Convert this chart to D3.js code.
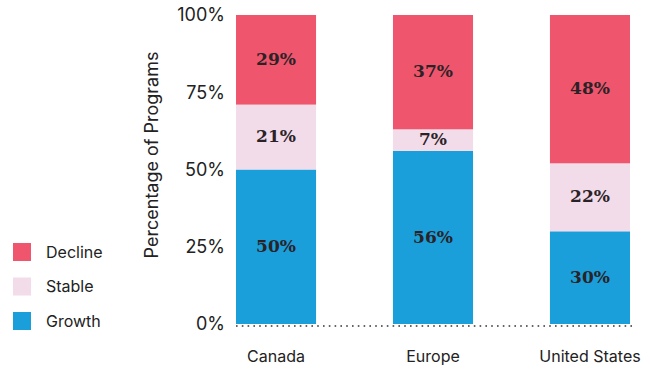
<!DOCTYPE html>
<html>
  <head>
    <meta charset="utf-8">
    <title></title>
    <script type="text/javascript" src="https://d3js.org/d3.v7.min.js"></script>
    <style>
      body { margin: 0; background: #fff; }
      text { font-family: "Inter", "Roboto", sans-serif; }
    </style>
  </head>
  <body>
    <script type="text/javascript">

      var regions = ["Canada", "Europe", "United States"];
      var growth = [50, 56, 30];
      var stable = [21, 7, 22];
      var decline = [29, 37, 48];
      var seriesNames = ["Decline", "Stable", "Growth"];
      var yTicks = [0, 25, 50, 75, 100];

      var colors = { Growth: "#1a9fdb", Stable: "#f2dcea", Decline: "#ef566d" };

      var w = 650, h = 374;

      var svg = d3.select("body").append("svg")
        .attr("width", w)
        .attr("height", h);

      var xscale = d3.scaleBand()
        .domain(regions)
        .range([236, 630])
        .paddingInner(0.49)
        .paddingOuter(0);

      var yscale = d3.scaleLinear()
        .domain([0, 100])
        .range([324, 15]);

      // build rows for stacking
      var rows = regions.map(function(r, i) {
        return { region: r, Growth: growth[i], Stable: stable[i], Decline: decline[i] };
      });
      var stack = d3.stack().keys(["Growth", "Stable", "Decline"]);
      var layers = stack(rows);

      var g = svg.selectAll("g.layer")
        .data(layers)
        .enter().append("g")
        .attr("class", "layer")
        .attr("fill", function(d) { return colors[d.key]; });

      g.selectAll("rect")
        .data(function(d) { return d; })
        .enter().append("rect")
        .attr("x", function(d) { return xscale(d.data.region); })
        .attr("width", xscale.bandwidth())
        .attr("y", function(d) { return yscale(d[1]); })
        .attr("height", function(d) { return yscale(d[0]) - yscale(d[1]); });

      g.selectAll("text")
        .data(function(d) { return d; })
        .enter().append("text")
        .attr("x", function(d) { return xscale(d.data.region) + xscale.bandwidth() / 2; })
        .attr("y", function(d) { return (yscale(d[0]) + yscale(d[1])) / 2; })
        .attr("dy", "0.3em")
        .attr("text-anchor", "middle")
        .style("font-family", "'DejaVu Serif', serif")
        .style("font-weight", "bold")
        .style("font-size", "17px")
        .attr("fill", "#2a2226")
        .text(function(d) { return (d[1] - d[0]) + "%"; });

      // dotted baseline
      svg.append("line")
        .attr("x1", 236)
        .attr("x2", 632)
        .attr("y1", yscale(0) + 2)
        .attr("y2", yscale(0) + 2)
        .attr("stroke", "#333")
        .attr("stroke-width", 1.6)
        .attr("stroke-dasharray", "1.6,4.2");

      // y axis
      var yAxis = d3.axisLeft(yscale)
        .tickValues(yTicks)
        .tickSize(0)
        .tickPadding(0)
        .tickFormat(function(d) { return d + "%"; });

      var ya = svg.append("g")
        .attr("transform", "translate(225,0)")
        .call(yAxis);
      ya.select(".domain").remove();
      ya.selectAll("text")
        .style("font-size", "18px")
        .style("font-family", "Inter, sans-serif")
        .attr("fill", "#222");

      // x axis labels
      var xAxis = d3.axisBottom(xscale).tickSize(0).tickPadding(0);
      var xa = svg.append("g")
        .attr("transform", "translate(0,351)")
        .call(xAxis);
      xa.select(".domain").remove();
      xa.selectAll("text")
        .style("font-size", "16px")
        .style("font-family", "Inter, sans-serif")
        .attr("fill", "#222");

      svg.append("text")
        .attr("transform", "translate(158,155)rotate(-90)")
        .attr("text-anchor", "middle")
        .style("font-size", "18px")
        .attr("fill", "#222")
        .text("Percentage of Programs");

      // legend
      var legend = svg.selectAll("g.legend")
        .data(seriesNames)
        .enter().append("g")
        .attr("class", "legend")
        .attr("transform", function(d, i) { return "translate(13," + (243 + i * 34.5) + ")"; });

      legend.append("rect")
        .attr("width", 18)
        .attr("height", 18)
        .attr("fill", function(d) { return colors[d]; });

      legend.append("text")
        .attr("x", 33)
        .attr("y", 9)
        .attr("dy", "0.35em")
        .style("font-size", "16px")
        .attr("fill", "#222")
        .text(function(d) { return d; });

    </script>
  </body>
</html>
